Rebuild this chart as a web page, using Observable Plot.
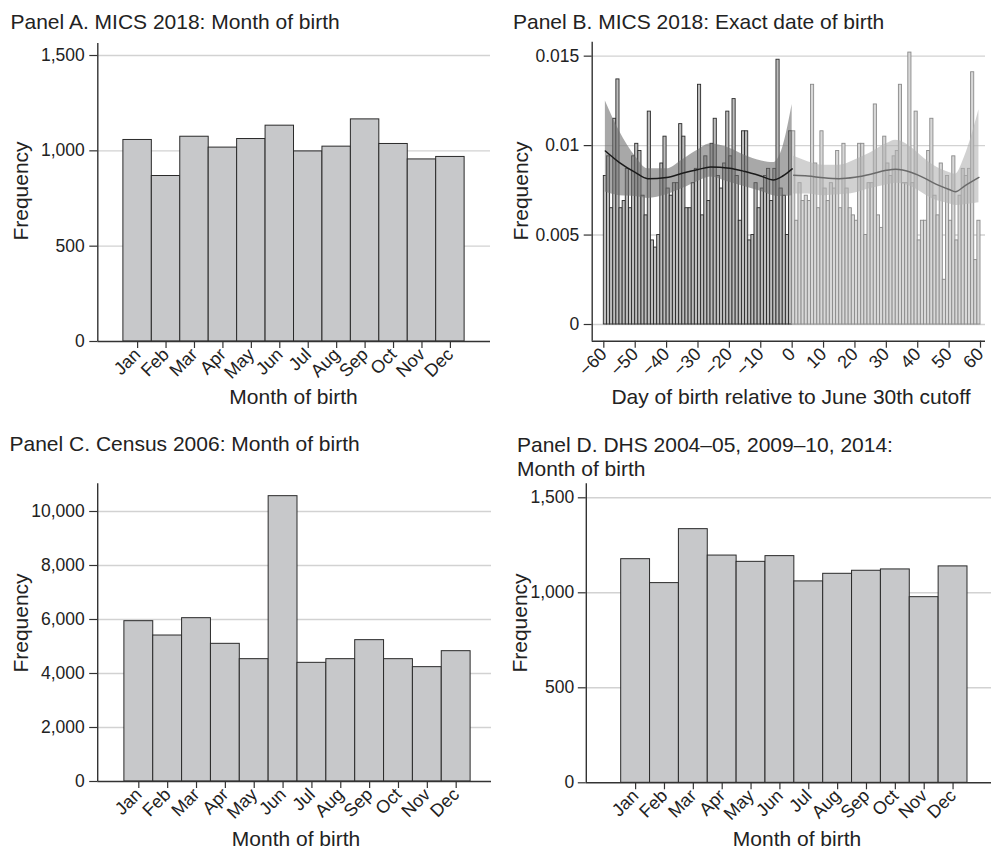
<!DOCTYPE html>
<html>
<head>
<meta charset="utf-8">
<script src="https://cdn.jsdelivr.net/npm/d3@7"></script>
<script src="https://cdn.jsdelivr.net/npm/@observablehq/plot@0.6"></script>
<style>
html, body { margin: 0; padding: 0; background: #fff; }
#fig { position: relative; width: 991px; height: 850px; overflow: hidden; background: #fff; }
#fig svg { position: absolute; }
</style>
</head>
<body>
<div id="fig"></div>
<script>
// ---------- DATA ----------
const months = ["Jan", "Feb", "Mar", "Apr", "May", "Jun", "Jul", "Aug", "Sep", "Oct", "Nov", "Dec"];
const monthPos = [1, 2, 3, 4, 5, 6, 7, 8, 9, 10, 11, 12];

// Panel A: MICS 2018 frequency by month of birth
const micsMonth = [1057, 868, 1074, 1017, 1062, 1132, 997, 1022, 1165, 1036, 955, 968];
// Panel C: Census 2006
const censusMonth = [5938, 5407, 6049, 5099, 4531, 10568, 4395, 4531, 5235, 4531, 4235, 4827];
// Panel D: DHS 2004-05, 2009-10, 2014
const dhsMonth = [1177, 1051, 1335, 1196, 1163, 1193, 1060, 1100, 1116, 1123, 977, 1139];

// Panel B: share of births by day relative to June 30th cutoff
const leftFirstDay = -60;   // days -60 .. -1
const leftDensity = [
  0.0083, 0.0094, 0.0065, 0.0115, 0.0137, 0.0065, 0.0069, 0.0087, 0.0065, 0.0094,
  0.0101, 0.0097, 0.0072, 0.0061, 0.0119, 0.0047, 0.0043, 0.0050, 0.0090, 0.0105,
  0.0076, 0.0072, 0.0079, 0.0079, 0.0112, 0.0105, 0.0065, 0.0065, 0.0079, 0.0087,
  0.0134, 0.0061, 0.0094, 0.0069, 0.0101, 0.0115, 0.0083, 0.0076, 0.0090, 0.0119,
  0.0094, 0.0126, 0.0083, 0.0058, 0.0108, 0.0108, 0.0047, 0.0050, 0.0079, 0.0065,
  0.0076, 0.0083, 0.0087, 0.0069, 0.0087, 0.0148, 0.0076, 0.0072, 0.0050, 0.0108
];
const rightFirstDay = 0;    // days 0 .. 59
const rightDensity = [
  0.0108, 0.0058, 0.0079, 0.0069, 0.0072, 0.0069, 0.0134, 0.0090, 0.0065, 0.0108,
  0.0076, 0.0069, 0.0079, 0.0076, 0.0097, 0.0065, 0.0101, 0.0076, 0.0065, 0.0061,
  0.0058, 0.0101, 0.0101, 0.0050, 0.0079, 0.0079, 0.0123, 0.0061, 0.0054, 0.0105,
  0.0090, 0.0083, 0.0094, 0.0097, 0.0134, 0.0079, 0.0079, 0.0152, 0.0079, 0.0119,
  0.0047, 0.0058, 0.0058, 0.0097, 0.0115, 0.0072, 0.0061, 0.0090, 0.0025, 0.0083,
  0.0058, 0.0094, 0.0047, 0.0072, 0.0087, 0.0083, 0.0087, 0.0141, 0.0036, 0.0058
];

// Local polynomial fits with confidence bands
const leftFitDay = [-59.5, -55, -50, -46, -40, -35, -30, -26, -20, -15, -10, -6, -3, 0];
const leftFit    = [0.00970, 0.00905, 0.00850, 0.00815, 0.00822, 0.00845, 0.00866, 0.00880, 0.00874, 0.00855, 0.00830, 0.00808, 0.00830, 0.00870];
const leftFitHi  = [0.01250, 0.01080, 0.00940, 0.00870, 0.00870, 0.00920, 0.00975, 0.01010, 0.00985, 0.00945, 0.00915, 0.00905, 0.00990, 0.01230];
const leftFitLo  = [0.00740, 0.00720, 0.00715, 0.00705, 0.00725, 0.00760, 0.00800, 0.00825, 0.00795, 0.00770, 0.00745, 0.00720, 0.00715, 0.00720];

const rightFitDay = [0.5, 5, 10, 15, 20, 25, 30, 33, 38, 42, 45, 50, 52, 55, 59.5];
const rightFit    = [0.00834, 0.00830, 0.00820, 0.00815, 0.00823, 0.00840, 0.00862, 0.00868, 0.00850, 0.00820, 0.00792, 0.00755, 0.00742, 0.00775, 0.00822];
const rightFitHi  = [0.00940, 0.00910, 0.00890, 0.00890, 0.00920, 0.00960, 0.01010, 0.01030, 0.00990, 0.00930, 0.00890, 0.00850, 0.00840, 0.00940, 0.01200];
const rightFitLo  = [0.00730, 0.00730, 0.00720, 0.00725, 0.00735, 0.00760, 0.00780, 0.00790, 0.00770, 0.00730, 0.00700, 0.00675, 0.00665, 0.00670, 0.00680];

// Tick values / labels
const ticksA = [0, 500, 1000, 1500];
const ticksC = [0, 2000, 4000, 6000, 8000, 10000];
const ticksD = [0, 500, 1000, 1500];
const ticksBy = [0, 0.005, 0.01, 0.015];
const ticksByLabels = ["0", "0.005", "0.01", "0.015"];
const ticksBx = [-60, -50, -40, -30, -20, -10, 0, 10, 20, 30, 40, 50, 60];

// Texts
const titles = [
  {x: 10.5, y: 28.5, t: "Panel A. MICS 2018: Month of birth"},
  {x: 513, y: 28.5, t: "Panel B. MICS 2018: Exact date of birth"},
  {x: 9.5, y: 451, t: "Panel C. Census 2006: Month of birth"},
  {x: 517, y: 452, t: "Panel D. DHS 2004–05, 2009–10, 2014:"},
  {x: 517, y: 475.5, t: "Month of birth"}
];
const xTitles = [
  {x: 293.5, y: 403.5, t: "Month of birth"},
  {x: 791, y: 403.5, t: "Day of birth relative to June 30th cutoff"},
  {x: 296, y: 846, t: "Month of birth"},
  {x: 797, y: 846, t: "Month of birth"}
];
const yTitles = [
  {x: 28, y: 191, t: "Frequency"},
  {x: 528, y: 191, t: "Frequency"},
  {x: 28, y: 623, t: "Frequency"},
  {x: 527, y: 623, t: "Frequency"}
];

// ---------- DRAWING ----------
const FONT = '"Liberation Sans", Arial, Helvetica, sans-serif';
const TICKFONT = 17.5;
const fig = document.getElementById("fig");
const fmtComma = d3.format(",");
const GRID = "#d2d2d2";
const AXIS = "#333";

function place(svg, left, top) {
  svg.style.left = left + "px";
  svg.style.top = top + "px";
  fig.appendChild(svg);
}

function monthPanel({values, left, top, width, height, mL, mR, mT, mB, yTop, yTicks, xDom, pad}) {
  const data = months.map((m, i) => ({m, pos: monthPos[i], v: values[i]}));
  const svg = Plot.plot({
    width, height,
    marginLeft: mL, marginRight: mR, marginTop: mT, marginBottom: mB,
    style: {fontFamily: FONT, fontSize: TICKFONT + "px", color: "#222", background: "transparent"},
    x: {type: "linear", domain: xDom, label: null},
    y: {domain: [0, yTop], label: null},
    marks: [
      Plot.ruleY(yTicks.filter(d => d > 0), {stroke: GRID, strokeWidth: 1.4}),
      Plot.rectY(data, {x1: d => d.pos - 0.5, x2: d => d.pos + 0.5, y1: 0, y2: "v",
        fill: "#c7c8ca", stroke: "#2a2a2a", strokeWidth: 1}),
      Plot.ruleX([xDom[0]], {stroke: AXIS, strokeWidth: 1.4}),
      Plot.ruleY([0], {stroke: AXIS, strokeWidth: 1.4}),
      Plot.axisY({ticks: yTicks, tickFormat: d => fmtComma(d), tickSize: 8, tickPadding: pad,
        label: null, fontSize: TICKFONT, stroke: AXIS, strokeWidth: 1.2}),
      Plot.axisX({ticks: monthPos, tickFormat: p => months[p - 1], tickSize: 7, tickPadding: 3,
        tickRotate: -45, label: null, fontSize: 18, stroke: AXIS, strokeWidth: 1.2})
    ]
  });
  place(svg, left, top);
}

// Panel A
monthPanel({values: micsMonth, left: 0, top: 30, width: 495, height: 380,
  mL: 97.3, mR: 5, mT: 13, mB: 69, yTop: 1563, yTicks: ticksA, xDom: [-0.40, 13.41], pad: 5});
// Panel C
monthPanel({values: censusMonth, left: 0, top: 470, width: 495, height: 380,
  mL: 97.2, mR: 4, mT: 13.3, mB: 69, yTop: 11026, yTicks: ticksC, xDom: [-0.425, 13.224], pad: 5});
// Panel D
monthPanel({values: dhsMonth, left: 495, top: 470, width: 496, height: 380,
  mL: 90.8, mR: 0, mT: 13.3, mB: 67.7, yTop: 1573.7, yTicks: ticksD, xDom: [-0.709, 13.332], pad: 4});

// Panel B
{
  const leftBars = leftDensity.map((v, i) => ({d: leftFirstDay + i, v}));
  const rightBars = rightDensity.map((v, i) => ({d: rightFirstDay + i, v}));
  const lf = leftFitDay.map((x, i) => ({x, y: leftFit[i], hi: leftFitHi[i], lo: leftFitLo[i]}));
  const rf = rightFitDay.map((x, i) => ({x, y: rightFit[i], hi: rightFitHi[i], lo: rightFitLo[i]}));
  const xDom = [-63.7, 61.59];
  const yDom = [-0.000933, 0.01578];
  const svg = Plot.plot({
    width: 496, height: 380,
    marginLeft: 96.7, marginRight: 6, marginTop: 11.7, marginBottom: 69.3,
    style: {fontFamily: FONT, fontSize: TICKFONT + "px", color: "#222", background: "transparent"},
    x: {domain: xDom, label: null},
    y: {domain: yDom, label: null},
    marks: [
      Plot.ruleY(ticksBy, {stroke: GRID, strokeWidth: 1.4}),
      Plot.rectY(leftBars, {x1: "d", x2: d => d.d + 1, y1: 0, y2: "v",
        fill: "#bdbdbd", stroke: "#2a2a2a", strokeWidth: 0.9}),
      Plot.rectY(rightBars, {x1: "d", x2: d => d.d + 1, y1: 0, y2: "v",
        fill: "#d8d8d8", stroke: "#8a8a8a", strokeWidth: 0.9}),
      Plot.areaY(lf, {x: "x", y1: "lo", y2: "hi", fill: "#6e6e6e", fillOpacity: 0.6, curve: "monotone-x"}),
      Plot.areaY(rf, {x: "x", y1: "lo", y2: "hi", fill: "#b3b3b3", fillOpacity: 0.6, curve: "monotone-x"}),
      Plot.line(lf, {x: "x", y: "y", stroke: "#1a1a1a", strokeWidth: 1.5, curve: "monotone-x"}),
      Plot.line(rf, {x: "x", y: "y", stroke: "#6a6a6a", strokeWidth: 1.5, curve: "monotone-x"}),
      Plot.ruleX([xDom[0]], {stroke: AXIS, strokeWidth: 1.4}),
      Plot.ruleY([yDom[0]], {stroke: AXIS, strokeWidth: 1.4}),
      Plot.axisY({ticks: ticksBy, tickFormat: d => ticksByLabels[ticksBy.indexOf(d)],
        tickSize: 8, tickPadding: 5, label: null, fontSize: TICKFONT, stroke: AXIS, strokeWidth: 1.2}),
      Plot.axisX({ticks: ticksBx, tickSize: 7, tickPadding: 3, tickRotate: -45,
        label: null, fontSize: 18, stroke: AXIS, strokeWidth: 1.2})
    ]
  });
  place(svg, 495, 30);
}

// Titles and axis titles
const ov = d3.select(fig).append("svg")
  .attr("width", 991).attr("height", 850)
  .style("left", "0px").style("top", "0px").style("pointer-events", "none")
  .attr("font-family", FONT).attr("fill", "#222");
ov.selectAll("text.title").data(titles).join("text").attr("class", "title")
  .attr("x", d => d.x).attr("y", d => d.y).attr("font-size", 21).text(d => d.t);
ov.selectAll("text.xt").data(xTitles).join("text").attr("class", "xt")
  .attr("x", d => d.x).attr("y", d => d.y).attr("font-size", 21)
  .attr("text-anchor", "middle").text(d => d.t);
ov.selectAll("text.yt").data(yTitles).join("text").attr("class", "yt")
  .attr("transform", d => `translate(${d.x},${d.y}) rotate(-90)`)
  .attr("font-size", 21).attr("text-anchor", "middle").text(d => d.t);
</script>
</body>
</html>
